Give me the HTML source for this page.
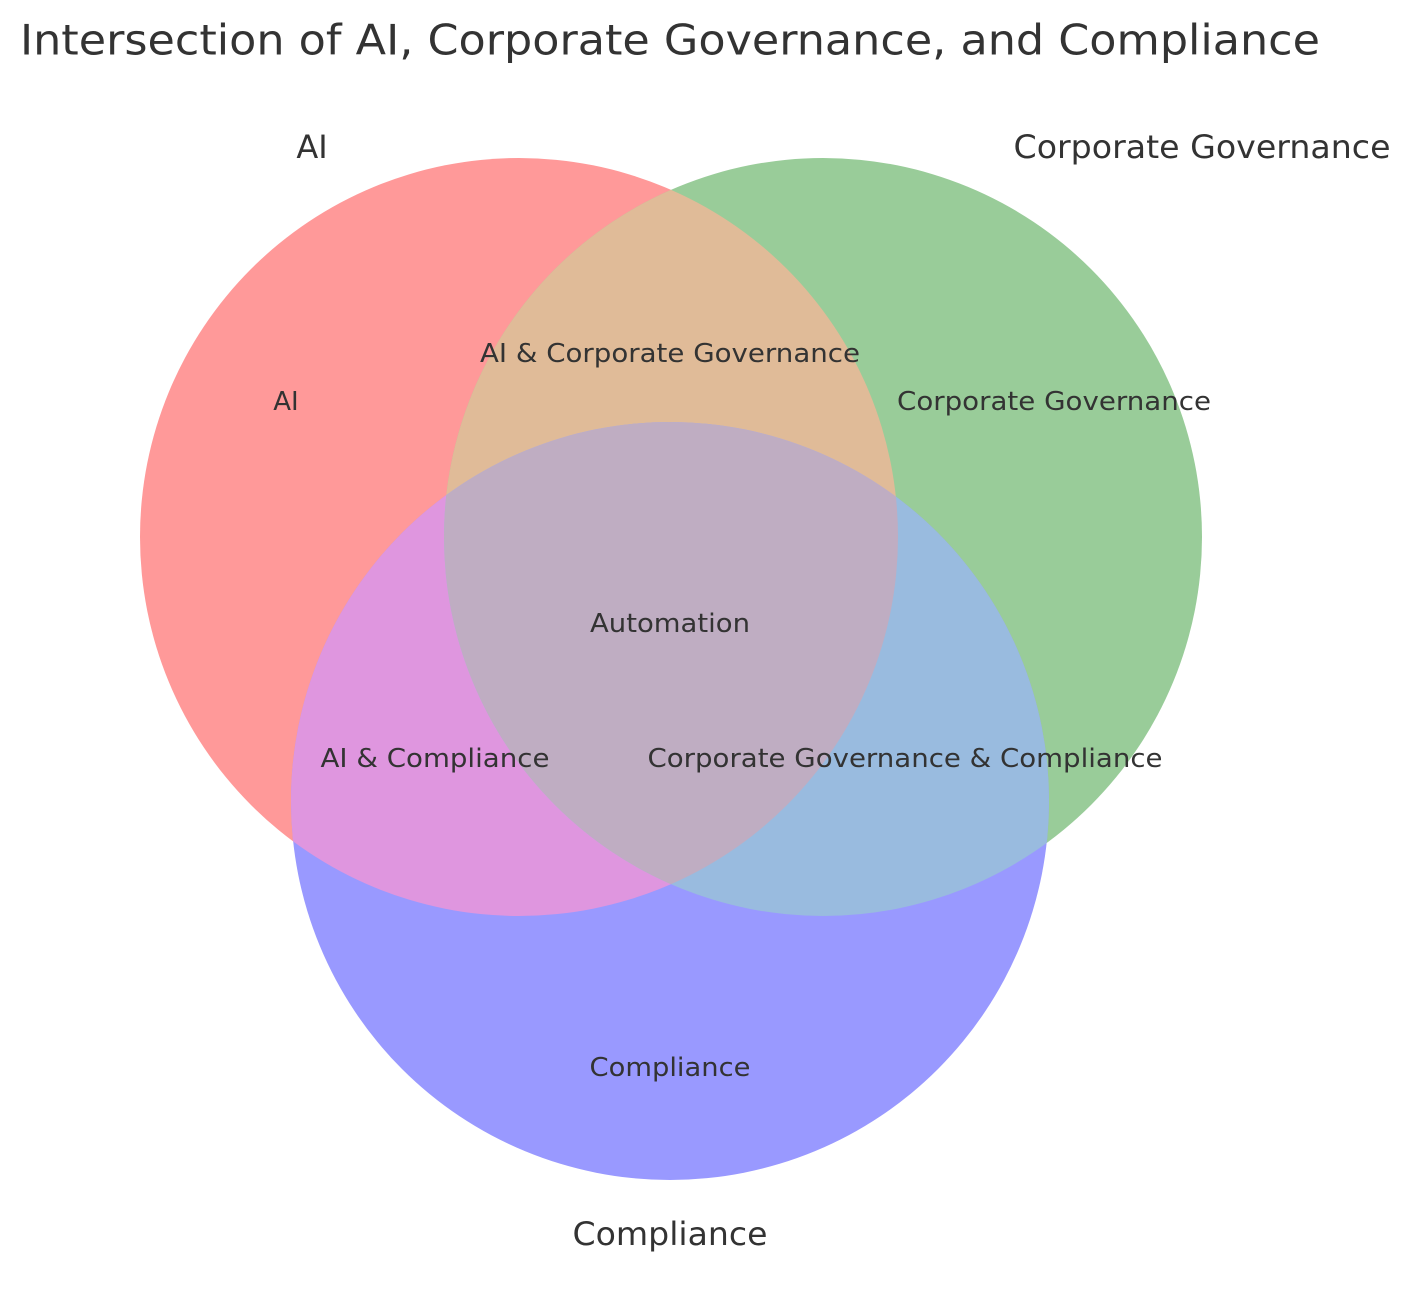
<!DOCTYPE html>
<html><head><meta charset="utf-8"><style>html,body{margin:0;padding:0;background:#fff}svg{display:block}</style></head>
<body>
<svg width="1411" height="1289" viewBox="0 0 1411 1289" xmlns="http://www.w3.org/2000/svg" font-family="DejaVu Sans, Liberation Sans, sans-serif" fill="#333">
<defs>
<clipPath id="cA"><circle cx="519" cy="537" r="379"/></clipPath>
<clipPath id="cB"><circle cx="823" cy="537" r="379"/></clipPath>
</defs>
<rect width="1411" height="1289" fill="#fff"/>
<circle cx="519" cy="537" r="379" fill="#ff9999"/>
<circle cx="823" cy="537" r="379" fill="#99cc99"/>
<circle cx="670" cy="801" r="379" fill="#9999ff"/>
<circle cx="823" cy="537" r="379" fill="#e0bb98" clip-path="url(#cA)"/>
<circle cx="670" cy="801" r="379" fill="#df96df" clip-path="url(#cA)"/>
<circle cx="670" cy="801" r="379" fill="#99bbdf" clip-path="url(#cB)"/>
<g clip-path="url(#cA)"><circle cx="670" cy="801" r="379" fill="#bfadc2" clip-path="url(#cB)"/></g>
<g dominant-baseline="central" text-anchor="middle" fill="#333">
<text x="670" y="40" font-size="42" textLength="1300" lengthAdjust="spacingAndGlyphs">Intersection of AI, Corporate Governance, and Compliance</text>
<text x="312" y="147" font-size="32">AI</text>
<text x="1202" y="147" font-size="32" textLength="377" lengthAdjust="spacingAndGlyphs">Corporate Governance</text>
<text x="670" y="1234" font-size="32" textLength="195" lengthAdjust="spacingAndGlyphs">Compliance</text>
<text x="286" y="402" font-size="26">AI</text>
<text x="670" y="354" font-size="26" textLength="380" lengthAdjust="spacingAndGlyphs">AI &amp; Corporate Governance</text>
<text x="1054" y="402" font-size="26" textLength="314" lengthAdjust="spacingAndGlyphs">Corporate Governance</text>
<text x="670" y="624" font-size="26" textLength="160" lengthAdjust="spacingAndGlyphs">Automation</text>
<text x="435" y="759" font-size="26" textLength="229" lengthAdjust="spacingAndGlyphs">AI &amp; Compliance</text>
<text x="905" y="759" font-size="26" textLength="515" lengthAdjust="spacingAndGlyphs">Corporate Governance &amp; Compliance</text>
<text x="670" y="1068" font-size="26" textLength="161" lengthAdjust="spacingAndGlyphs">Compliance</text>
</g>
</svg>
</body></html>
